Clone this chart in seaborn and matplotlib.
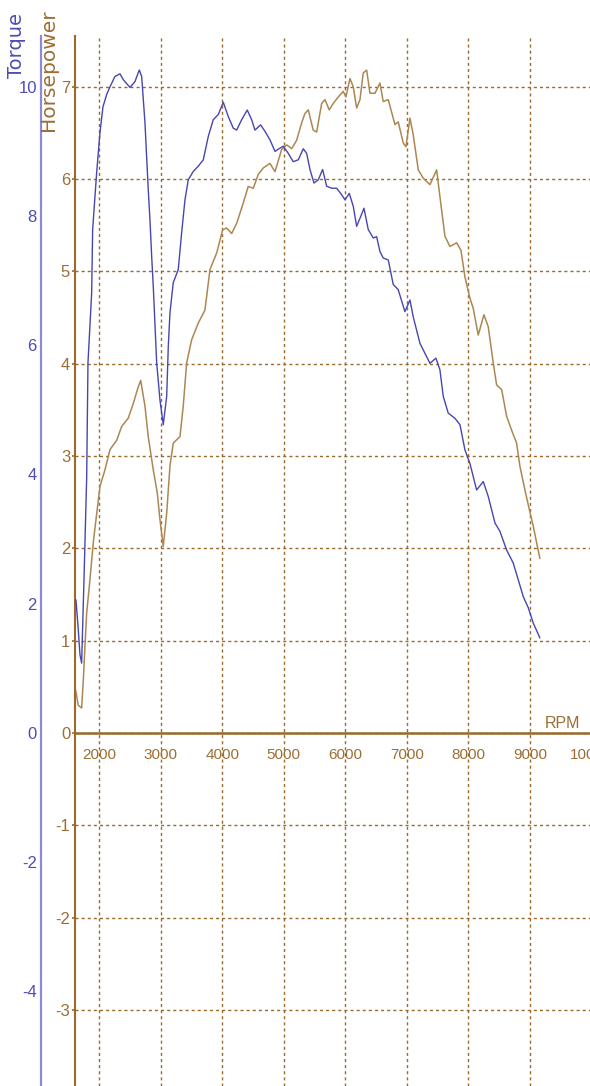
import matplotlib
matplotlib.use("Agg")
import matplotlib.pyplot as plt
from matplotlib.ticker import MultipleLocator, FixedLocator
import pandas as pd
import seaborn as sns

# Dyno run: torque curve
torque_rpm = [1620, 1653, 1686, 1713, 1751, 1795, 1816, 1876, 1892, 1957,
              2011, 2060, 2120, 2174, 2255, 2336, 2390, 2499, 2580, 2650,
              2689, 2743, 2796, 2824, 2852, 2878, 2933, 2987, 3040, 3096,
              3122, 3149, 3203, 3284, 3339, 3393, 3447, 3528, 3609, 3691,
              3772, 3853, 3935, 4016, 4097, 4178, 4234, 4315, 4406, 4478,
              4531, 4624, 4694, 4775, 4857, 4938, 4992, 5073, 5154, 5236,
              5317, 5372, 5426, 5491, 5561, 5632, 5697, 5778, 5860, 5941,
              5995, 6065, 6130, 6185, 6250, 6304, 6374, 6455, 6510, 6564,
              6617, 6699, 6780, 6861, 6970, 7052, 7105, 7214, 7377, 7474,
              7539, 7593, 7674, 7783, 7865, 7946, 8027, 8136, 8244, 8325,
              8434, 8515, 8624, 8731, 8813, 8894, 8975, 9057, 9165]
torque_val = [2.06, 1.67, 1.21, 1.08, 2.37, 3.96, 5.73, 6.81, 7.79, 8.67,
              9.29, 9.69, 9.88, 10.00, 10.16, 10.20, 10.11, 9.99, 10.08, 10.26,
              10.16, 9.44, 8.41, 7.94, 7.37, 6.91, 5.73, 5.15, 4.77, 5.21,
              5.98, 6.50, 6.97, 7.17, 7.74, 8.25, 8.56, 8.69, 8.77, 8.87,
              9.23, 9.49, 9.57, 9.76, 9.54, 9.36, 9.33, 9.49, 9.64, 9.49,
              9.33, 9.41, 9.31, 9.18, 9.00, 9.05, 9.08, 8.97, 8.84, 8.87,
              9.04, 8.97, 8.72, 8.51, 8.56, 8.72, 8.46, 8.43, 8.43, 8.33,
              8.25, 8.35, 8.15, 7.84, 7.99, 8.12, 7.79, 7.66, 7.68, 7.45,
              7.35, 7.32, 6.94, 6.86, 6.52, 6.70, 6.44, 6.03, 5.72, 5.80,
              5.62, 5.21, 4.95, 4.87, 4.77, 4.38, 4.17, 3.76, 3.89, 3.66,
              3.25, 3.12, 2.83, 2.63, 2.37, 2.11, 1.94, 1.70, 1.47]

# Dyno run: horsepower curve
hp_rpm = [1613, 1658, 1713, 1740, 1767, 1795, 1848, 1902, 1946, 2011,
          2092, 2174, 2283, 2364, 2471, 2553, 2634, 2673, 2743, 2796,
          2878, 2943, 2987, 3040, 3096, 3149, 3203, 3312, 3365, 3421,
          3502, 3609, 3718, 3800, 3909, 4006, 4071, 4152, 4234, 4341,
          4422, 4504, 4585, 4666, 4775, 4857, 4965, 5047, 5128, 5209,
          5291, 5344, 5398, 5479, 5535, 5616, 5670, 5739, 5805, 5886,
          5967, 6011, 6076, 6130, 6185, 6239, 6292, 6348, 6401, 6483,
          6564, 6617, 6699, 6808, 6861, 6943, 6986, 7052, 7105, 7187,
          7268, 7377, 7486, 7539, 7621, 7702, 7811, 7881, 7946, 8027,
          8081, 8162, 8255, 8325, 8406, 8461, 8543, 8624, 8705, 8786,
          8840, 8922, 9003, 9057, 9112, 9165]
hp_val = [0.47, 0.30, 0.27, 0.57, 0.94, 1.30, 1.66, 2.06, 2.31, 2.67,
          2.85, 3.07, 3.17, 3.32, 3.41, 3.57, 3.75, 3.82, 3.54, 3.21,
          2.85, 2.60, 2.31, 2.02, 2.38, 2.89, 3.14, 3.21, 3.54, 4.01,
          4.26, 4.44, 4.58, 5.02, 5.20, 5.45, 5.47, 5.41, 5.52, 5.74,
          5.92, 5.90, 6.05, 6.12, 6.17, 6.08, 6.32, 6.37, 6.33, 6.42,
          6.61, 6.71, 6.75, 6.53, 6.51, 6.82, 6.86, 6.75, 6.82, 6.89,
          6.95, 6.89, 7.09, 7.00, 6.77, 6.86, 7.15, 7.18, 6.93, 6.93,
          7.04, 6.84, 6.86, 6.59, 6.62, 6.39, 6.35, 6.66, 6.48, 6.10,
          6.01, 5.94, 6.10, 5.81, 5.38, 5.27, 5.31, 5.23, 4.94, 4.71,
          4.60, 4.31, 4.53, 4.40, 4.01, 3.77, 3.72, 3.43, 3.28, 3.14,
          2.89, 2.63, 2.39, 2.24, 2.06, 1.89]

rpm_ticks = [2000, 3000, 4000, 5000, 6000, 7000, 8000, 9000, 10000]
hp_ticks = [-3, -2, -1, 0, 1, 2, 3, 4, 5, 6, 7]
torque_ticks = [-4, -2, 0, 2, 4, 6, 8, 10]

BROWN = "#9a6a2c"
BROWN_TXT = "#9c6e34"
HP_LINE = "#ad8752"
BLUE_LINE = "#4646b2"
BLUE_AXIS = "#8a8ad8"
BLUE_TXT = "#4d4db0"

sns.set_style("white")
plt.rcParams["font.family"] = ["Liberation Sans", "DejaVu Sans"]

hp_df = pd.DataFrame({"rpm": hp_rpm, "hp": hp_val})
tq_df = pd.DataFrame({"rpm": torque_rpm, "torque": torque_val})

fig = plt.figure(figsize=(5.9, 10.86), dpi=100)
ax = fig.add_axes([75 / 590, 0, 547 / 590, 1050 / 1086])
ax2 = ax.twinx()

sns.lineplot(data=hp_df, x="rpm", y="hp", ax=ax, color=HP_LINE,
             linewidth=1.1, estimator=None, sort=False)
sns.lineplot(data=tq_df, x="rpm", y="torque", ax=ax2, color=BLUE_LINE,
             linewidth=1.0, estimator=None, sort=False)

hp_lo, hp_hi = -3.825, 7.55
ax.set_xlim(1605, 10500)
ax.set_ylim(hp_lo, hp_hi)
ax2.set_ylim(hp_lo * 10 / 7, hp_hi * 10 / 7)

# horsepower axis (inner, brown)
ax.xaxis.set_major_locator(FixedLocator(rpm_ticks))
ax.xaxis.set_minor_locator(MultipleLocator(200))
ax.set_yticks(hp_ticks)
ax.set_yticklabels([str(v) for v in hp_ticks])
ax.grid(True, which="major", color=BROWN, linestyle=(0, (2.2, 2.2)),
        linewidth=1.0)
ax.set_axisbelow(True)
for side in ("top", "right"):
    ax.spines[side].set_visible(False)
ax.spines["left"].set_color(BROWN)
ax.spines["left"].set_linewidth(1.5)
ax.spines["bottom"].set_position(("data", 0))
ax.spines["bottom"].set_color(BROWN)
ax.spines["bottom"].set_linewidth(1.8)
ax.tick_params(axis="x", which="major", direction="out", length=9.5,
               width=1.2, color=BROWN, labelcolor=BROWN_TXT, labelsize=11,
               pad=1)
ax.tick_params(axis="x", which="minor", direction="out", length=5,
               width=1.2, color=BROWN)
ax.tick_params(axis="y", direction="out", length=2.5, width=1.2,
               color=BROWN, labelcolor=BROWN_TXT, labelsize=12, pad=1)
ax.set_ylabel("")
ax.set_xlabel("RPM", color=BROWN_TXT, fontsize=11.5)
ax.xaxis.set_label_coords(0.892, 0.352)

# torque axis (outer, blue)
ax2.yaxis.tick_left()
for side in ("top", "right", "bottom"):
    ax2.spines[side].set_visible(False)
ax2.spines["left"].set_visible(True)
ax2.spines["left"].set_position(("outward", 24.5))
ax2.spines["left"].set_color(BLUE_AXIS)
ax2.spines["left"].set_linewidth(1.6)
ax2.set_yticks(torque_ticks)
ax2.set_yticklabels([str(v) for v in torque_ticks])
ax2.tick_params(axis="y", left=True, right=False, labelleft=True,
                labelright=False, length=0, labelcolor=BLUE_TXT,
                labelsize=12, pad=3)
ax2.set_ylabel("")
ax2.set_xlabel("")

fig.text(17 / 590, 1 - 45 / 1086, "Torque", rotation=90, ha="center",
         va="center", color=BLUE_TXT, fontsize=14, family=["DejaVu Sans"])
fig.text(48 / 590, 1 - 70 / 1086, "Horsepower", rotation=90, ha="center",
         va="center", color=BROWN_TXT, fontsize=14.5, family=["DejaVu Sans"])

fig.savefig("out.png", dpi=100)
